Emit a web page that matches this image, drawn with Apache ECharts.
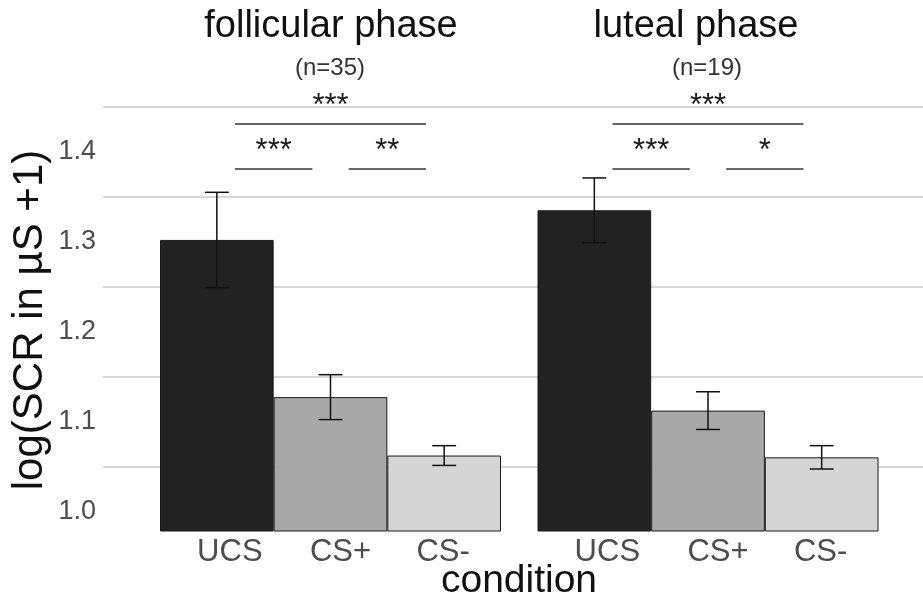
<!DOCTYPE html>
<html>
<head>
<meta charset="utf-8">
<script src="https://cdn.jsdelivr.net/npm/echarts@6/dist/echarts.min.js"></script>
<style>
  html, body { margin: 0; padding: 0; background: #ffffff; }
  #chart { width: 923px; height: 600px; }
</style>
</head>
<body>
<div id="chart"></div>
<script>
// Skin conductance responses per condition, split by cycle phase
const conditions = ['UCS', 'CS+', 'CS-'];
const panelTitles = ['follicular phase', 'luteal phase'];
const sampleSizes = ['(n=35)', '(n=19)'];

const follicularMean = [1.302, 1.127, 1.062];
const follicularSE = [0.053, 0.025, 0.011];
const lutealMean = [1.335, 1.112, 1.060];
const lutealSE = [0.036, 0.021, 0.013];

const yTickValues = [1.0, 1.1, 1.2, 1.3, 1.4];

// Pairwise comparisons: [from condition, to condition, bracket height]
const follicularSig = [[0, 2, 1.431], [0, 1, 1.381], [1, 2, 1.381]];
const follicularSigLabels = ['***', '***', '**'];
const lutealSig = [[0, 2, 1.431], [0, 1, 1.381], [1, 2, 1.381]];
const lutealSigLabels = ['***', '***', '*'];

const barColors = ['#222222', '#a8a8a8', '#d5d5d5'];
const FONT = '"Liberation Sans", Arial, Helvetica, sans-serif';

const Y_MIN = 0.978, Y_MAX = 1.47;
const labelShift = [13, 10, -1];

const chart = echarts.init(document.getElementById('chart'), null, { renderer: 'canvas' });

function barSeries(idx, means) {
  return {
    type: 'bar', xAxisIndex: idx, yAxisIndex: idx,
    barCategoryGap: '0%', silent: true, z: 2,
    data: means.map((v, i) => ({
      value: v,
      itemStyle: { color: barColors[i], borderColor: '#1a1a1a', borderWidth: 1 }
    }))
  };
}

function errorSeries(idx, means, se) {
  return {
    type: 'custom', xAxisIndex: idx, yAxisIndex: idx, silent: true, z: 4,
    encode: { x: 0, y: [1, 2] },
    data: means.map((m, i) => [i, m - se[i], m + se[i]]),
    renderItem(params, api) {
      const lo = api.coord([api.value(0), api.value(1)]);
      const hi = api.coord([api.value(0), api.value(2)]);
      const half = api.size([1, 0])[0] * 0.105;
      const st = { stroke: '#111111', lineWidth: 1.5 };
      return {
        type: 'group', children: [
          { type: 'line', shape: { x1: lo[0], y1: lo[1], x2: hi[0], y2: hi[1] }, style: st },
          { type: 'line', shape: { x1: hi[0] - half, y1: hi[1], x2: hi[0] + half, y2: hi[1] }, style: st },
          { type: 'line', shape: { x1: lo[0] - half, y1: lo[1], x2: lo[0] + half, y2: lo[1] }, style: st }
        ]
      };
    }
  };
}

function bracketSeries(idx, sig, labels) {
  return {
    type: 'custom', xAxisIndex: idx, yAxisIndex: idx, silent: true, z: 5,
    encode: { x: [0, 1], y: 2 },
    data: sig,
    renderItem(params, api) {
      const a = api.coord([api.value(0), api.value(2)]);
      const b = api.coord([api.value(1), api.value(2)]);
      const inset = api.size([1, 0])[0] * 0.16;
      const x1 = a[0] + inset, x2 = b[0] - inset, y = a[1];
      return {
        type: 'group', children: [
          { type: 'line', shape: { x1: x1, y1: y, x2: x2, y2: y },
            style: { stroke: '#333333', lineWidth: 1.5 } },
          { type: 'text', x: (x1 + x2) / 2, y: y - 18,
            style: { text: labels[params.dataIndex], fontSize: 31, fontFamily: FONT,
                     fill: '#1a1a1a', align: 'center', verticalAlign: 'middle' } }
        ]
      };
    }
  };
}

const rich = {};
labelShift.forEach((s, i) => {
  rich['c' + i] = {
    fontSize: 31, fontFamily: FONT, color: '#4d4d4d',
    padding: s >= 0 ? [0, 0, 0, 2 * s] : [0, -2 * s, 0, 0]
  };
});

function catAxis(idx) {
  return {
    type: 'category', gridIndex: idx, data: conditions,
    axisLine: { show: false }, axisTick: { show: false },
    axisLabel: {
      margin: 6,
      formatter: (v) => '{c' + conditions.indexOf(v) + '|' + v + '}',
      rich: rich
    }
  };
}

function valAxis(idx, showLabels) {
  return {
    type: 'value', gridIndex: idx, min: Y_MIN, max: Y_MAX,
    axisLine: { show: false }, axisTick: { show: false },
    splitLine: { show: false },
    axisLabel: showLabels ? {
      show: true, customValues: yTickValues, margin: 64,
      formatter: (v) => v.toFixed(1),
      fontSize: 27, fontFamily: FONT, color: '#4d4d4d'
    } : { show: false }
  };
}

const option = {
  backgroundColor: '#ffffff',
  animation: false,
  grid: [
    { left: 160, top: 89, width: 341, height: 442 },
    { left: 537.5, top: 89, width: 341, height: 442 },
    // horizontal guide lines spanning both panels
    { left: 103, right: 0, top: 107, height: 359.3 }
  ],
  xAxis: [
    catAxis(0),
    catAxis(1),
    { type: 'value', gridIndex: 2, min: 0, max: 1, show: false }
  ],
  yAxis: [
    valAxis(0, true),
    valAxis(1, false),
    {
      type: 'value', gridIndex: 2, min: 1.05, max: 1.45, interval: 0.1,
      axisLine: { show: false }, axisTick: { show: false }, axisLabel: { show: false },
      splitLine: { show: true, lineStyle: { color: '#c8c8c8', width: 1.5 } }
    }
  ],
  series: [
    barSeries(0, follicularMean),
    errorSeries(0, follicularMean, follicularSE),
    bracketSeries(0, follicularSig, follicularSigLabels),
    barSeries(1, lutealMean),
    errorSeries(1, lutealMean, lutealSE),
    bracketSeries(1, lutealSig, lutealSigLabels)
  ],
  graphic: [
    { type: 'text', x: 331, y: 27, style: { text: panelTitles[0], fontSize: 38, fontFamily: FONT, fill: '#111111', align: 'center', verticalAlign: 'middle' } },
    { type: 'text', x: 696, y: 27, style: { text: panelTitles[1], fontSize: 38, fontFamily: FONT, fill: '#111111', align: 'center', verticalAlign: 'middle' } },
    { type: 'text', x: 330, y: 68, style: { text: sampleSizes[0], fontSize: 24, fontFamily: FONT, fill: '#333333', align: 'center', verticalAlign: 'middle' } },
    { type: 'text', x: 707, y: 68, style: { text: sampleSizes[1], fontSize: 24, fontFamily: FONT, fill: '#333333', align: 'center', verticalAlign: 'middle' } },
    { type: 'text', x: 519, y: 581, style: { text: 'condition', fontSize: 39, fontFamily: FONT, fill: '#111111', align: 'center', verticalAlign: 'middle' } },
    { type: 'text', x: 30, y: 320, rotation: Math.PI / 2, style: { text: 'log(SCR in µS +1)', fontSize: 42, fontFamily: FONT, fill: '#111111', align: 'center', verticalAlign: 'middle' } }
  ]
};

chart.setOption(option);
</script>
</body>
</html>
